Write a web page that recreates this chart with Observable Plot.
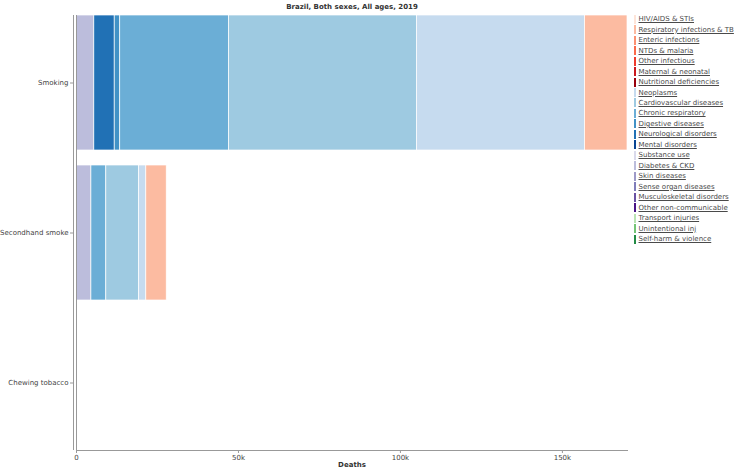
<!DOCTYPE html>
<html>
<head>
<meta charset="utf-8">
<script src="https://cdn.jsdelivr.net/npm/d3@7"></script>
<script src="https://cdn.jsdelivr.net/npm/@observablehq/plot@0.6"></script>
<style>
  html, body { margin: 0; padding: 0; background: #fff; }
  #wrap { position: relative; width: 750px; height: 469px; font-family: "DejaVu Sans", sans-serif; }
  #legend { position: absolute; left: 634px; top: 14px; font-size: 7px; color: #4a4a4a; }
  .item { height: 10.48px; display: flex; align-items: center; white-space: nowrap; }
  .sw { display: inline-block; width: 2px; height: 9px; margin-right: 2.5px; }
  .lbl { text-decoration: underline; }
</style>
</head>
<body>
<div id="wrap"><div id="legend"></div></div>
<script>
const title = "Brazil, Both sexes, All ages, 2019";
const riskFactors = ["Smoking", "Secondhand smoke", "Chewing tobacco"];
const causes = [
  "HIV/AIDS & STIs", "Respiratory infections & TB", "Enteric infections", "NTDs & malaria",
  "Other infectious", "Maternal & neonatal", "Nutritional deficiencies",
  "Neoplasms", "Cardiovascular diseases", "Chronic respiratory", "Digestive diseases",
  "Neurological disorders", "Mental disorders",
  "Substance use", "Diabetes & CKD", "Skin diseases", "Sense organ diseases",
  "Musculoskeletal disorders", "Other non-communicable",
  "Transport injuries", "Unintentional inj", "Self-harm & violence"
];
const causeColors = [
  "#fee5d9", "#fcbba1", "#fc9272", "#fb6a4a", "#ef3b2c", "#cb181d", "#99000d",
  "#c6dbef", "#9ecae1", "#6baed6", "#4292c6", "#2171b5", "#084594",
  "#dadaeb", "#bcbddc", "#9e9ac8", "#807dba", "#6a51a3", "#4a1486",
  "#bae4b3", "#74c476", "#238b45"
];
const smokingCauses = ["Diabetes & CKD", "Neurological disorders", "Digestive diseases", "Chronic respiratory", "Cardiovascular diseases", "Neoplasms", "Respiratory infections & TB"];
const smokingDeaths = [5500, 6300, 1700, 33600, 58000, 51900, 13100];
const secondhandCauses = ["Diabetes & CKD", "Chronic respiratory", "Cardiovascular diseases", "Neoplasms", "Respiratory infections & TB"];
const secondhandDeaths = [4600, 4600, 10100, 2250, 6300];
const chewingCauses = [];
const chewingDeaths = [];
const xTicks = [0, 50000, 100000, 150000];
const xTickLabels = ["0", "50k", "100k", "150k"];

const rows = [
  ...smokingCauses.map((c, i) => ({risk: "Smoking", cause: c, deaths: smokingDeaths[i]})),
  ...secondhandCauses.map((c, i) => ({risk: "Secondhand smoke", cause: c, deaths: secondhandDeaths[i]})),
  ...chewingCauses.map((c, i) => ({risk: "Chewing tobacco", cause: c, deaths: chewingDeaths[i]}))
];
const xMax = d3.max([d3.sum(smokingDeaths), d3.sum(secondhandDeaths), d3.sum(chewingDeaths)]);
const stackOrder = causes.slice().reverse();

const chart = Plot.plot({
  width: 750,
  height: 469,
  marginTop: 15,
  marginBottom: 19,
  marginLeft: 76,
  marginRight: 123,
  style: {fontFamily: "DejaVu Sans, sans-serif", fontSize: "7px", color: "#333", background: "white"},
  x: {domain: [0, xMax]},
  y: {domain: riskFactors, paddingInner: 0.1, paddingOuter: 0},
  color: {domain: causes, range: causeColors},
  marks: [
    Plot.barX(rows, Plot.stackX({x: "deaths", y: "risk", fill: "cause", order: stackOrder, stroke: "white", strokeWidth: 0.7})),
    Plot.ruleX([0], {stroke: "#999"}),
    Plot.ruleX([0], {stroke: "#999", dx: -3}),
    Plot.frame({anchor: "bottom", stroke: "#999"}),
    Plot.axisY({tickSize: 3, dx: -3, tickPadding: 2, label: null, stroke: "#999", fill: "#444"}),
    Plot.axisX({ticks: xTicks, tickFormat: (d) => xTickLabels[xTicks.indexOf(d)], tickSize: 3, tickPadding: 2, label: null, stroke: "#999", fill: "#444"}),
    Plot.text(["Deaths"], {frameAnchor: "bottom", dy: 16, fontWeight: "bold", fill: "#333"}),
    Plot.text([title], {frameAnchor: "top", dy: -11, fontWeight: "bold", fill: "#333"})
  ]
});
document.getElementById("wrap").prepend(chart);

const legend = d3.select("#legend");
causes.forEach((c, i) => {
  const item = legend.append("div").attr("class", "item");
  item.append("span").attr("class", "sw").style("background", causeColors[i]);
  item.append("span").attr("class", "lbl").text(c);
});
</script>
</body>
</html>
